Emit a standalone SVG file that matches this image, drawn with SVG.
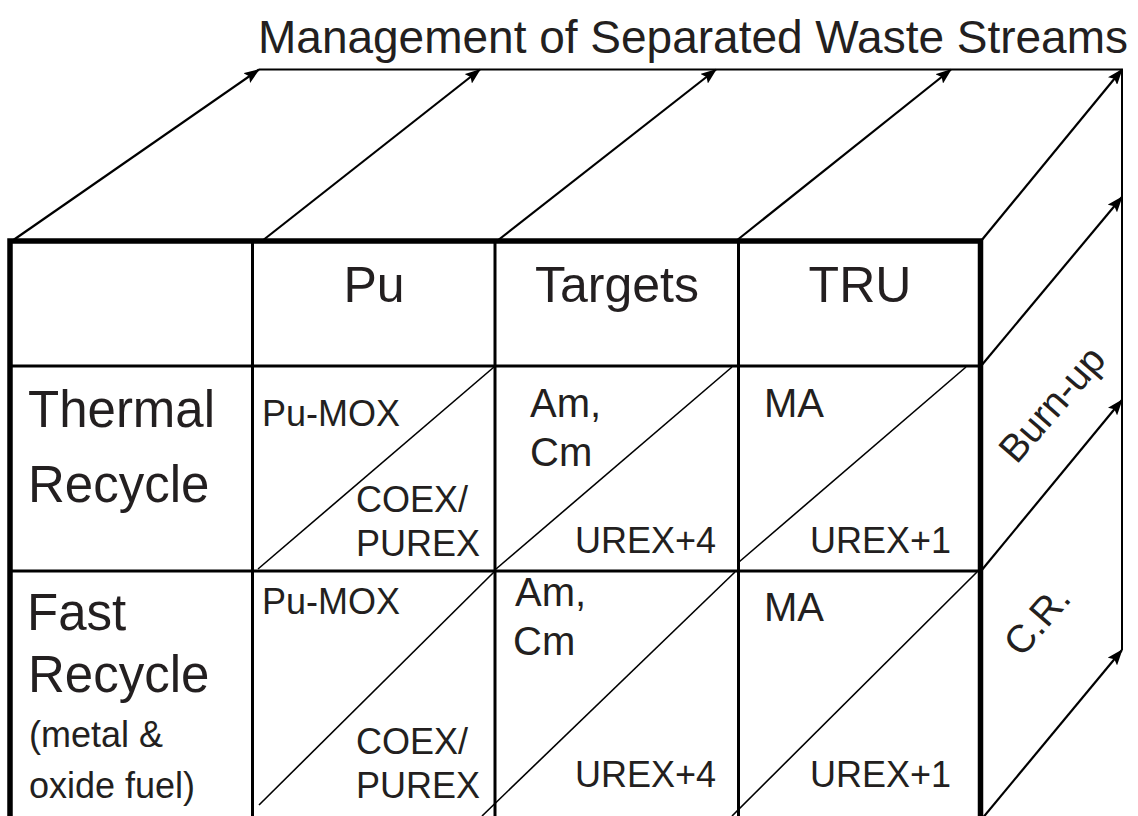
<svg xmlns="http://www.w3.org/2000/svg" width="1138" height="816" viewBox="0 0 1138 816">
  <style>
    text { font-family: "Liberation Sans", Arial, sans-serif; fill: #231f20; }
    .big { font-size: 50px; }
    .row { font-size: 51px; }
    .mid { font-size: 40px; }
    .small { font-size: 36px; }
    .side { font-size: 39px; }
    .frame { fill: none; stroke: #000; stroke-width: 5.5; stroke-linejoin: miter; }
    .grid { fill: none; stroke: #000; stroke-width: 3; }
    .diag { fill: none; stroke: #000; stroke-width: 1.6; }
    .edge { fill: none; stroke: #000; stroke-width: 2; }
    .arrow { fill: none; stroke: #000; stroke-width: 2.2; marker-end: url(#head); }
  </style>
  <defs>
    <marker id="head" viewBox="0 0 16 12" refX="15" refY="6" markerWidth="16" markerHeight="12" markerUnits="userSpaceOnUse" orient="auto">
      <path d="M0,0 L16,6 L0,12 L3,6 z" fill="#000"/>
    </marker>
  </defs>

  <rect width="1138" height="816" fill="#fff"/>

  <!-- heading over the back edge -->
  <g id="title">
    <text x="258" y="53" style="font-size:46px" textLength="870" lengthAdjust="spacingAndGlyphs">Management of Separated Waste Streams</text>
  </g>

  <!-- receding edges of the block: top and right faces -->
  <g id="connectors">
    <path class="edge" d="M259,69.5 H1122 V650"/>
    <path class="arrow" d="M12,241 L259,69.5"/>
    <path class="arrow" d="M262,241 L480,69.5"/>
    <path class="arrow" d="M497,241 L716,69.5"/>
    <path class="arrow" d="M736,241 L951,69.5"/>
    <path class="arrow" d="M981,241 L1122,69.5"/>
    <path class="arrow" d="M981,366 L1122,197"/>
    <path class="arrow" d="M981,571 L1122,400"/>
    <path class="arrow" d="M981,820 L1122,650"/>
  </g>

  <!-- front face: table frame and grid -->
  <g id="table">
    <path class="grid" d="M10,366 H980 M10,571 H980 M252.5,241 V816 M495,241 V816 M738.5,241 V816"/>
    <path class="frame" d="M10,820 V241 H980.5 V820"/>
  </g>

  <!-- column headings -->
  <g id="head-pu"><text class="big" x="374" y="302" text-anchor="middle">Pu</text></g>
  <g id="head-targets"><text class="big" x="617" y="302" text-anchor="middle">Targets</text></g>
  <g id="head-tru"><text class="big" x="860" y="302" text-anchor="middle">TRU</text></g>

  <!-- row headings -->
  <g id="row-thermal">
    <text class="row" x="28" y="427">Thermal</text>
    <text class="row" x="28" y="502">Recycle</text>
  </g>
  <g id="row-fast">
    <text class="row" x="27" y="630">Fast</text>
    <text class="row" x="28" y="692">Recycle</text>
    <text class="small" x="29" y="747">(metal &amp;</text>
    <text class="small" x="29" y="798">oxide fuel)</text>
  </g>

  <!-- thermal recycle cells -->
  <g id="cell-thermal-pu">
    <path class="diag" d="M494,367 L258,569"/>
    <text class="small" x="262" y="426">Pu-MOX</text>
    <text class="small" x="356" y="512">COEX/</text>
    <text class="small" x="356" y="556">PUREX</text>
  </g>
  <g id="cell-thermal-targets">
    <path class="diag" d="M732,367 L496,569"/>
    <text class="mid" x="530" y="417">Am,</text>
    <text class="mid" x="530" y="466">Cm</text>
    <text class="small" x="575" y="553">UREX+4</text>
  </g>
  <g id="cell-thermal-tru">
    <path class="diag" d="M966,367 L739,562"/>
    <text class="mid" x="764" y="417">MA</text>
    <text class="small" x="810" y="553">UREX+1</text>
  </g>

  <!-- fast recycle cells -->
  <g id="cell-fast-pu">
    <path class="diag" d="M494,572 L259,805"/>
    <text class="small" x="262" y="614">Pu-MOX</text>
    <text class="small" x="356" y="754">COEX/</text>
    <text class="small" x="356" y="798">PUREX</text>
  </g>
  <g id="cell-fast-targets">
    <path class="diag" d="M735,572 L482,816"/>
    <text class="mid" x="515" y="606">Am,</text>
    <text class="mid" x="513" y="655">Cm</text>
    <text class="small" x="575" y="787">UREX+4</text>
  </g>
  <g id="cell-fast-tru">
    <path class="diag" d="M977,572 L732,816"/>
    <text class="mid" x="764" y="621">MA</text>
    <text class="small" x="810" y="787">UREX+1</text>
  </g>

  <!-- labels on the side face -->
  <g id="label-burnup">
    <text class="side" x="0" y="0" text-anchor="middle" transform="translate(1062,413) rotate(-49)">Burn-up</text>
  </g>
  <g id="label-cr">
    <text class="side" x="0" y="0" text-anchor="middle" transform="translate(1047,629) rotate(-49)">C.R.</text>
  </g>
</svg>
